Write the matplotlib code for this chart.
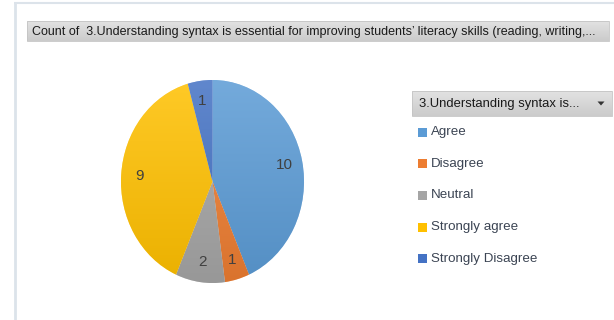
import numpy as np
import matplotlib
matplotlib.use("Agg")
import matplotlib.pyplot as plt
from matplotlib import colors as mcolors
from matplotlib.patches import Rectangle, Polygon

plt.rcParams['font.family'] = ['Liberation Sans', 'DejaVu Sans']

# survey answers
categories = ['Agree', 'Disagree', 'Neutral', 'Strongly agree', 'Strongly Disagree']
counts = [10, 1, 2, 9, 1]
slice_colors = ['#5B9BD5', '#ED7D31', '#A5A5A5', '#FFC000', '#4472C4']
title = "Count of  3.Understanding syntax is essential for improving students\u2019 literacy skills (reading, writing,..."
legend_title = "3.Understanding syntax is..."

text_col = '#404040'
W, H = 614, 320

fig = plt.figure(figsize=(W / 100, H / 100), dpi=100)
fig.patch.set_facecolor('white')

# pixel-space axes for the frame, header bars and legend
bg = fig.add_axes([0, 0, 1, 1])
bg.set_xlim(0, W)
bg.set_ylim(H, 0)
bg.axis('off')

bg.plot([14, W], [3, 3], color='#DCE3EA', lw=1.5, solid_capstyle='butt')
bg.plot([14.5, 14.5], [3, H], color='#DCE3EA', lw=2, solid_capstyle='butt')


def gray_bar(x0, y0, x1, y1):
    grad = np.linspace(0, 1, 50).reshape(-1, 1)
    cmap = mcolors.LinearSegmentedColormap.from_list('g', ['#E2E2E2', '#CBCBCB'])
    bg.imshow(grad, cmap=cmap, extent=[x0, x1, y1, y0], aspect='auto', zorder=1)
    bg.add_patch(Rectangle((x0, y0), x1 - x0, y1 - y0, fill=False,
                           ec='#C4C4C4', lw=0.6, zorder=2))


gray_bar(27, 21, 609, 41)
bg.text(32, 31.5, title, fontsize=9.0, color='#1A1A1A', va='center', ha='left', zorder=3)

gray_bar(412, 91, 612, 116)
bg.text(419, 103.5, legend_title, fontsize=9.4, color='#1A1A1A', va='center', ha='left', zorder=3)
bg.add_patch(Polygon([[597.5, 101.5], [604.5, 101.5], [601, 105.5]], closed=True,
                     fc='#333333', ec='none', zorder=3))

for i, (name, c) in enumerate(zip(categories, slice_colors)):
    y = 132 + i * 31.7
    bg.add_patch(Rectangle((418, y - 4.5), 9, 9, fc=c, ec='none', zorder=2))
    bg.text(431, y, name, fontsize=9.6, color='#3B4453', va='center', ha='left', zorder=3)
bg.set_xlim(0, W)
bg.set_ylim(H, 0)

# pie, slightly taller than wide
cx, cy, rx, ry = 212.5, 181.5, 91.5, 101.5
ax = fig.add_axes([(cx - rx) / W, 1 - (cy + ry) / H, 2 * rx / W, 2 * ry / H])
total = sum(counts)
wedges, _, autotexts = ax.pie(
    counts, colors=slice_colors, startangle=90, counterclock=False,
    autopct=lambda p: f"{round(p * total / 100)}", pctdistance=0.8,
    wedgeprops=dict(edgecolor='white', linewidth=0.3),
    textprops=dict(color=text_col, fontsize=11))
ax.set_aspect('auto')
ax.set_xlim(-1, 1)
ax.set_ylim(-1, 1)
ax.axis('off')

# soft vertical shading inside every slice
for w, c in zip(wedges, slice_colors):
    base = np.array(mcolors.to_rgb(c))
    light = base + (1 - base) * 0.15
    dark = base * 0.92
    cmap = mcolors.LinearSegmentedColormap.from_list('s', [dark, light])
    grad = np.linspace(0, 1, 100).reshape(-1, 1)
    im = ax.imshow(grad, cmap=cmap, extent=[-1, 1, -1, 1], origin='lower',
                   aspect='auto', zorder=w.get_zorder() + 0.1)
    im.set_clip_path(w)
for t in autotexts:
    t.set_zorder(5)
ax.set_xlim(-1, 1)
ax.set_ylim(-1, 1)

fig.savefig('out.png', dpi=100)
